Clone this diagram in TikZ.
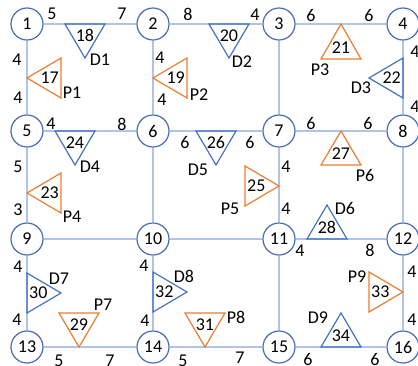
\documentclass[tikz,border=0pt]{standalone}
\usepackage{fontspec}
\setmainfont{Carlito}
\usetikzlibrary{calc}
\definecolor{nodeblue}{HTML}{4A6DB5}
\definecolor{edgeblue}{HTML}{B0C4E8}
\definecolor{triblue}{HTML}{4472C4}
\definecolor{triorange}{HTML}{ED7D31}
\newcommand\mytri[6]{%
  \draw[#1] #3 -- #4 -- #5 -- cycle;
  \node[lbl] (#2) at ($0.3333*#3+0.3333*#4+0.3333*#5$) {#6};}
\begin{document}
\begin{tikzpicture}[x=1pt,y=-1pt,font=\fontsize{18}{20}\selectfont,
  vertex/.style={circle,draw=nodeblue,line width=1.2pt,fill=white,minimum size=32pt,inner sep=0pt},
  edge/.style={draw=edgeblue,line width=1.4pt},
  btri/.style={draw=triblue,line width=1.2pt},
  otri/.style={draw=triorange,line width=1.2pt},
  lbl/.style={inner sep=0pt}]
\path[use as bounding box] (0,0) rectangle (418,365);
% vertices
\node[vertex] (n1) at (27,24) {1};
\node[vertex] (n2) at (153,24) {2};
\node[vertex] (n3) at (279,24) {3};
\node[vertex] (n4) at (403,24) {4};
\node[vertex] (n5) at (27,131) {5};
\node[vertex] (n6) at (153,131) {6};
\node[vertex] (n7) at (279,131) {7};
\node[vertex] (n8) at (403,131) {8};
\node[vertex] (n9) at (27,239) {9};
\node[vertex] (n10) at (153,239) {10};
\node[vertex] (n11) at (279,239) {11};
\node[vertex] (n12) at (403,239) {12};
\node[vertex] (n13) at (27,347) {13};
\node[vertex] (n14) at (153,347) {14};
\node[vertex] (n15) at (279,347) {15};
\node[vertex] (n16) at (403,347) {16};
% edges
\foreach \a/\b in {1/2,2/3,3/4,5/6,6/7,7/8,9/10,10/11,11/12,13/14,14/15,15/16,
                   1/5,5/9,9/13,2/6,6/10,10/14,3/7,7/11,11/15,4/8,8/12,12/16}
  \draw[edge] (n\a) -- (n\b);
% triangles
\mytri{btri}{t18}{(65,24)}{(105,24)}{(85,58)}{18}
\mytri{otri}{t17}{(27,78)}{(61,58)}{(61,98)}{17}
\mytri{btri}{t20}{(209,24)}{(249,24)}{(229,58)}{20}
\mytri{otri}{t19}{(153,78)}{(187,58)}{(187,98)}{19}
\mytri{otri}{t21}{(341,24)}{(321,59)}{(361,59)}{21}
\mytri{btri}{t22}{(403,58)}{(403,98)}{(369,78)}{22}
\mytri{btri}{t24}{(55,131)}{(95,131)}{(75,165)}{24}
\mytri{otri}{t23}{(27,193)}{(61,173)}{(61,213)}{23}
\mytri{btri}{t26}{(196,131)}{(236,131)}{(216,165)}{26}
\mytri{otri}{t27}{(341,131)}{(321,165)}{(361,165)}{27}
\mytri{otri}{t25}{(279,186)}{(245,166)}{(245,206)}{25}
\mytri{btri}{t28}{(307,239)}{(347,239)}{(327,205)}{28}
\mytri{btri}{t30}{(27,273)}{(27,313)}{(61,293)}{30}
\mytri{otri}{t29}{(59,313)}{(99,313)}{(79,347)}{29}
\mytri{btri}{t32}{(153,272)}{(153,312)}{(187,292)}{32}
\mytri{otri}{t31}{(185,313)}{(225,313)}{(205,347)}{31}
\mytri{otri}{t33}{(369,272)}{(369,312)}{(403,292)}{33}
\mytri{btri}{t34}{(321,347)}{(361,347)}{(341,313)}{34}
% triangle labels
\node[lbl] (d1) at (100,60) {D1};
\node[lbl] (p1) at (72,93) {P1};
\node[lbl] (d2) at (242,62) {D2};
\node[lbl] (p2) at (199,95) {P2};
\node[lbl] (p3) at (320,70) {P3};
\node[lbl] (d3) at (361,88) {D3};
\node[lbl] (d4) at (90,167) {D4};
\node[lbl] (p4) at (72,217) {P4};
\node[lbl] (d5) at (198,170) {D5};
\node[lbl] (p6) at (365,175) {P6};
\node[lbl] (p5) at (230,209) {P5};
\node[lbl] (d6) at (345,208) {D6};
\node[lbl] (d7) at (59,279) {D7};
\node[lbl] (p7) at (103,305) {P7};
\node[lbl] (d8) at (184,276) {D8};
\node[lbl] (p8) at (236,317) {P8};
\node[lbl] (p9) at (357,277) {P9};
\node[lbl] (d9) at (318,318) {D9};
% edge weights
\node[lbl] (w1) at (52,14) {5};
\node[lbl] (w2) at (122,14) {7};
\node[lbl] (w3) at (188,14) {8};
\node[lbl] (w4) at (255,15) {4};
\node[lbl] (w5) at (311,15) {6};
\node[lbl] (w6) at (369,15) {6};
\node[lbl] (w7) at (17,60) {4};
\node[lbl] (w8) at (18,98) {4};
\node[lbl] (w9) at (160,58) {4};
\node[lbl] (w10) at (162,100) {4};
\node[lbl] (w11) at (415,52) {4};
\node[lbl] (w12) at (415,107) {4};
\node[lbl] (w13) at (51,124) {4};
\node[lbl] (w14) at (122,124) {8};
\node[lbl] (w15) at (18,167) {5};
\node[lbl] (w16) at (18,210) {3};
\node[lbl] (w17) at (185,142) {6};
\node[lbl] (w18) at (250,142) {6};
\node[lbl] (w19) at (311,123) {6};
\node[lbl] (w20) at (368,123) {6};
\node[lbl] (w21) at (286,167) {4};
\node[lbl] (w22) at (286,209) {4};
\node[lbl] (w23) at (300,251) {4};
\node[lbl] (w24) at (370,250) {8};
\node[lbl] (w25) at (18,267) {4};
\node[lbl] (w26) at (17,320) {4};
\node[lbl] (w27) at (144,266) {4};
\node[lbl] (w28) at (145,321) {4};
\node[lbl] (w29) at (412,272) {4};
\node[lbl] (w30) at (412,320) {4};
\node[lbl] (w31) at (59,361) {5};
\node[lbl] (w32) at (110,361) {7};
\node[lbl] (w33) at (183,361) {5};
\node[lbl] (w34) at (240,358) {7};
\node[lbl] (w35) at (308,359) {6};
\node[lbl] (w36) at (375,359) {6};
\end{tikzpicture}
\end{document}
